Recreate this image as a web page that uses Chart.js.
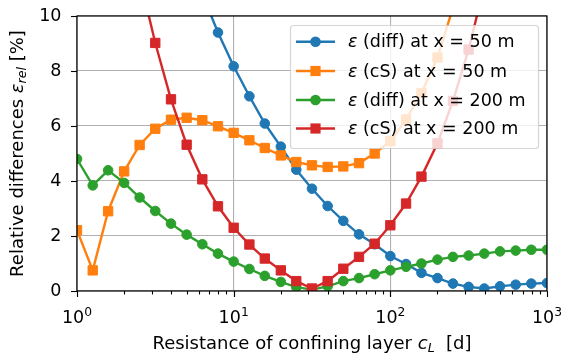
<!DOCTYPE html>
<html>
<head>
<meta charset="utf-8">
<script src="https://cdn.jsdelivr.net/npm/chart.js@4/dist/chart.umd.min.js"></script>
<style>
  html, body { margin: 0; padding: 0; background: #fff; }
  #wrap { width: 561px; height: 355px; }
</style>
</head>
<body>
<div id="wrap"><canvas id="chart" width="561" height="355"></canvas></div>
<script>
// resistance of confining layer c_L [d]
const cL = [1, 1.26, 1.58, 2, 2.51, 3.16, 3.98, 5.01, 6.31, 7.94,
  10, 12.6, 15.8, 20, 25.1, 31.6, 39.8, 50.1, 63.1, 79.4,
  100, 126, 158, 200, 251, 316, 398, 501, 631, 794, 1000];

// relative differences [%]
const diff50 = [31, 27.5, 24.3, 21.4, 18.8, 16.4, 14.3, 12.4, 10.8, 9.40,
  8.17, 7.08, 6.09, 5.25, 4.41, 3.72, 3.09, 2.55, 2.06, 1.70,
  1.27, 0.98, 0.66, 0.47, 0.27, 0.15, 0.09, 0.17, 0.23, 0.27, 0.29];
const cS50 = [2.21, 0.75, 2.90, 4.35, 5.31, 5.90, 6.23, 6.30, 6.21, 5.99,
  5.75, 5.48, 5.20, 4.93, 4.69, 4.57, 4.51, 4.53, 4.65, 5.00,
  5.45, 6.24, 7.20, 8.49, 10.3, 12.2, 14.3, 16.6, 19.0, 21.6, 24.4];
const diff200 = [4.80, 3.84, 4.39, 3.93, 3.40, 2.91, 2.45, 2.05, 1.70, 1.36,
  1.07, 0.80, 0.55, 0.33, 0.14, 0.05, 0.17, 0.36, 0.47, 0.61,
  0.75, 0.88, 1.00, 1.14, 1.24, 1.29, 1.36, 1.44, 1.47, 1.50, 1.50];
const cS200 = [25, 20.5, 16.7, 13.7, 11.4, 9.02, 6.97, 5.32, 4.06, 3.08,
  2.30, 1.69, 1.18, 0.75, 0.36, 0.09, 0.36, 0.81, 1.24, 1.72,
  2.39, 3.18, 4.16, 5.37, 6.91, 8.78, 11.1, 13.6, 16.3, 19.2, 22.3];

const legendLabels = ["(diff) at x = 50 m", "(cS) at x = 50 m", "(diff) at x = 200 m", "(cS) at x = 200 m"];
const yTicks = [0, 2, 4, 6, 8, 10];
const xMajor = [1, 10, 100, 1000];

const FONT = "'DejaVu Sans', sans-serif";
const FS = 17.5, FS_SMALL = 12.3;   // ticks + legend
const FL = 18, FL_SMALL = 12.6;     // axis labels
const colors = ["#1f77b4", "#ff7f0e", "#2ca02c", "#d62728"];
const series = [diff50, cS50, diff200, cS200];
const shapes = ["circle", "rect", "circle", "rect"];

const isMajor = v => Math.abs(Math.log10(v) - Math.round(Math.log10(v))) < 1e-9;

// text made of parts with own font and vertical offset
function partsWidth(ctx, parts) {
  let w = 0;
  parts.forEach(p => { ctx.font = p.font; w += ctx.measureText(p.t).width; });
  return w;
}
function drawParts(ctx, parts, x, y, align) {
  let w = partsWidth(ctx, parts);
  let cx = align === "center" ? x - w / 2 : align === "right" ? x - w : x;
  ctx.textAlign = "left";
  parts.forEach(p => {
    ctx.font = p.font;
    ctx.fillText(p.t, cx, y + (p.dy || 0));
    cx += ctx.measureText(p.t).width;
  });
}

const decor = {
  id: "decor",
  afterDraw(chart) {
    const ctx = chart.ctx;
    const a = chart.chartArea;
    const xs = chart.scales.x, ys = chart.scales.y;
    const big = FS + "px " + FONT, small = FS_SMALL + "px " + FONT;
    const lab = FL + "px " + FONT, labSmall = FL_SMALL + "px " + FONT;
    ctx.save();
    ctx.fillStyle = "#000";
    ctx.strokeStyle = "#000";

    // spines
    ctx.lineWidth = 1.2;
    ctx.strokeRect(a.left, a.top, a.right - a.left, a.bottom - a.top);

    // x ticks (major + minor)
    ctx.lineWidth = 1.1;
    for (let d = 1; d < 1000; d *= 10) {
      for (let k = 1; k <= 10; k++) {
        const v = d * k;
        const px = Math.round(xs.getPixelForValue(v)) + 0.5;
        const len = isMajor(v) ? 6 : 3.5;
        ctx.beginPath();
        ctx.moveTo(px, a.bottom);
        ctx.lineTo(px, a.bottom + len);
        ctx.stroke();
      }
    }
    // y ticks
    yTicks.forEach(v => {
      const py = Math.round(ys.getPixelForValue(v)) + 0.5;
      ctx.beginPath();
      ctx.moveTo(a.left, py);
      ctx.lineTo(a.left - 6, py);
      ctx.stroke();
    });

    // tick labels
    ctx.textBaseline = "alphabetic";
    xMajor.forEach((v, i) => {
      const px = xs.getPixelForValue(v);
      drawParts(ctx, [
        { t: "10", font: big },
        { t: String(i), font: small, dy: -7 }
      ], px, a.bottom + 31.5, "center");
    });
    ctx.textBaseline = "middle";
    yTicks.forEach(v => {
      ctx.font = big;
      ctx.textAlign = "right";
      ctx.fillText(String(v), a.left - 15.5, ys.getPixelForValue(v) + 0.5);
    });

    // axis labels
    ctx.textBaseline = "alphabetic";
    drawParts(ctx, [
      { t: "Resistance of confining layer ", font: lab },
      { t: "c", font: "italic " + lab },
      { t: "L", font: "italic " + labSmall, dy: 3.5 },
      { t: "  [d]", font: lab }
    ], (a.left + a.right) / 2, 348.5, "center");

    ctx.save();
    ctx.translate(22.5, (a.top + a.bottom) / 2);
    ctx.rotate(-Math.PI / 2);
    drawParts(ctx, [
      { t: "Relative differences ", font: lab },
      { t: "\u03b5", font: "italic " + lab },
      { t: "rel", font: "italic " + labSmall, dy: 3.5 },
      { t: " [%]", font: lab }
    ], 0, 0, "center");
    ctx.restore();

    // legend
    const lx = 290, ly = 25, lw = 248, lh = 123;
    ctx.beginPath();
    ctx.roundRect(lx + 0.5, ly + 0.5, lw, lh, 3);
    ctx.fillStyle = "rgba(255,255,255,0.8)";
    ctx.fill();
    ctx.strokeStyle = "rgba(204,204,204,0.8)";
    ctx.lineWidth = 1.2;
    ctx.stroke();

    const rows = [41.7, 71, 100, 128.5];
    legendLabels.forEach((text, i) => {
      const y = rows[i];
      ctx.strokeStyle = colors[i];
      ctx.fillStyle = colors[i];
      ctx.lineWidth = 2.4;
      ctx.beginPath();
      ctx.moveTo(296, y);
      ctx.lineTo(335, y);
      ctx.stroke();
      ctx.beginPath();
      if (shapes[i] === "circle") {
        ctx.arc(315.5, y, 5.3, 0, Math.PI * 2);
      } else {
        ctx.rect(315.5 - 5.1, y - 5.1, 10.2, 10.2);
      }
      ctx.fill();
      ctx.fillStyle = "#000";
      ctx.textBaseline = "middle";
      drawParts(ctx, [
        { t: "\u03b5", font: "italic " + big },
        { t: " " + text, font: big }
      ], 348, y + 1, "left");
    });
    ctx.restore();
  }
};

const datasets = series.map((vals, i) => ({
  label: legendLabels[i],
  data: vals.map((v, k) => ({ x: cL[k], y: v })),
  borderColor: colors[i],
  backgroundColor: colors[i],
  borderWidth: 2.4,
  pointStyle: shapes[i],
  pointRadius: shapes[i] === "circle" ? 4.8 : 6.6,
  pointBorderWidth: 1,
  pointBorderColor: colors[i],
  pointBackgroundColor: colors[i],
  tension: 0,
  order: 4 - i
}));

new Chart(document.getElementById("chart"), {
  type: "line",
  data: { datasets },
  options: {
    responsive: false,
    animation: false,
    events: [],
    layout: { padding: { left: 77, top: 16, right: 14, bottom: 64 } },
    plugins: { legend: { display: false }, tooltip: { enabled: false } },
    scales: {
      x: {
        type: "logarithmic",
        min: 1,
        max: 1000,
        ticks: { display: false },
        border: { display: false },
        grid: {
          drawTicks: false,
          lineWidth: 1.1,
          color: c => (c.tick && isMajor(c.tick.value)) ? "#b0b0b0" : "rgba(0,0,0,0)"
        }
      },
      y: {
        min: 0,
        max: 10,
        ticks: { display: false, stepSize: 2 },
        border: { display: false },
        grid: { drawTicks: false, lineWidth: 1.1, color: "#b0b0b0" }
      }
    }
  },
  plugins: [decor]
});
</script>
</body>
</html>
